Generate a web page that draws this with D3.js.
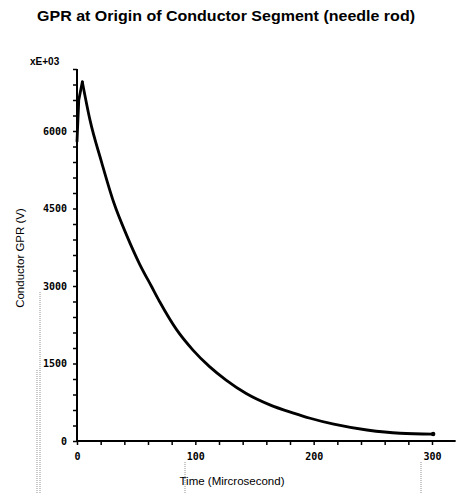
<!DOCTYPE html>
<html>
<head>
<meta charset="utf-8">
<script src="https://cdn.jsdelivr.net/npm/d3@7"></script>
<style>
  html, body { margin: 0; padding: 0; background: #fff; }
  svg { display: block; }
</style>
</head>
<body>
<svg id="chart" width="456" height="493"></svg>
<script>
// ---- data ----
const timeUs = [0, 1.5, 4.5, 11, 21, 31, 42, 53, 63, 70, 84, 98, 112, 126, 143, 163, 183, 197, 217, 245, 273, 301];
const gprVolts = [5800, 6600, 6950, 6210, 5380, 4620, 3980, 3420, 2990, 2690, 2160, 1760, 1440, 1180, 920, 700, 540, 440, 325, 213, 150, 135];
const peakIndex = 2;
const xTickLabels = [0, 100, 200, 300];
const yTickLabels = [0, 1500, 3000, 4500, 6000];
const titleText = "GPR at Origin of Conductor Segment (needle rod)";
const xTitle = "Time (Mircrosecond)";
const yTitle = "Conductor GPR (V)";
const yExponent = "xE+03";

const svg = d3.select("#chart");
const x = d3.scaleLinear().domain([0, 300]).range([77, 432]);
const y = d3.scaleLinear().domain([0, 7200]).range([441, 69]);
const xEnd = 320;

// title
svg.append("text")
  .attr("x", 226).attr("y", 21)
  .attr("text-anchor", "middle")
  .attr("font-family", "Liberation Sans, Arial, sans-serif")
  .attr("font-weight", "bold")
  .attr("font-size", 15)
  .attr("textLength", 378).attr("lengthAdjust", "spacingAndGlyphs")
  .text(titleText);

// exponent label
svg.append("text")
  .attr("x", 30).attr("y", 65)
  .attr("font-family", "Liberation Sans, Arial, sans-serif")
  .attr("font-weight", "bold")
  .attr("font-size", 10)
  .text(yExponent);

// scan-artifact-like faint dotted guides (decorative)
const deco = svg.append("g").attr("stroke", "#777").attr("stroke-width", 0.8).attr("stroke-dasharray", "1,1");
deco.append("line").attr("x1", 40).attr("x2", 40).attr("y1", 292).attr("y2", 493);
deco.append("line").attr("x1", 37).attr("x2", 37).attr("y1", 370).attr("y2", 493);
deco.append("line").attr("x1", 185).attr("x2", 185).attr("y1", 462).attr("y2", 493);
deco.append("line").attr("x1", 421).attr("x2", 421).attr("y1", 462).attr("y2", 493);

// y axis (minor ticks every 300, labels every 1500)
const yAxis = d3.axisLeft(y)
  .tickValues(d3.range(0, 7201, 300))
  .tickSize(4)
  .tickFormat(d => yTickLabels.includes(d) ? String(d) : "");
const gy = svg.append("g").attr("transform", `translate(${x(0)},0)`).call(yAxis);
gy.select(".domain").attr("stroke", "#000").attr("stroke-width", 2).attr("d", `M0,${y(7200)}V${y(0)}`);
gy.selectAll(".tick line").attr("stroke", "#000").attr("stroke-width", 1.5);
gy.selectAll(".tick text")
  .attr("x", -10).attr("dy", "0.32em")
  .attr("font-family", "DejaVu Sans Mono, monospace")
  .attr("font-weight", "bold")
  .attr("font-size", 10)
  .attr("fill", "#000");

// x axis (minor ticks every 20, labels every 100)
const xAxis = d3.axisBottom(x)
  .tickValues(d3.range(0, 301, 20))
  .tickSize(4)
  .tickFormat(d => xTickLabels.includes(d) ? String(d) : "");
const gx = svg.append("g").attr("transform", `translate(0,${y(0)})`).call(xAxis);
gx.select(".domain").attr("stroke", "#000").attr("stroke-width", 2).attr("d", `M${x(0)},0H${x(xEnd)}`);
gx.selectAll(".tick line").attr("stroke", "#000").attr("stroke-width", 1.5);
gx.selectAll(".tick text")
  .attr("y", 12)
  .attr("font-family", "DejaVu Sans Mono, monospace")
  .attr("font-weight", "bold")
  .attr("font-size", 10)
  .attr("fill", "#000");

// axis titles
svg.append("text")
  .attr("x", 232).attr("y", 485)
  .attr("text-anchor", "middle")
  .attr("font-family", "Liberation Sans, Arial, sans-serif")
  .attr("font-size", 11.5)
  .text(xTitle);
svg.append("text")
  .attr("transform", "translate(24,258) rotate(-90)")
  .attr("text-anchor", "middle")
  .attr("font-family", "Liberation Sans, Arial, sans-serif")
  .attr("font-size", 11.5)
  .text(yTitle);

// curve: sharp rise (linear) then smooth decay
const pts = timeUs.map((t, i) => [t, gprVolts[i]]);
const rise = pts.slice(0, peakIndex + 1);
const decay = pts.slice(peakIndex);
const lineLin = d3.line().x(d => x(d[0])).y(d => y(d[1]));
const lineSmooth = d3.line().x(d => x(d[0])).y(d => y(d[1])).curve(d3.curveMonotoneX);
const curveG = svg.append("g").attr("fill", "none").attr("stroke", "#000")
  .attr("stroke-width", 2.8).attr("stroke-linejoin", "round").attr("stroke-linecap", "round");
curveG.append("path").datum(rise).attr("d", lineLin);
curveG.append("path").datum(decay).attr("d", lineSmooth);
const last = pts[pts.length - 1];
svg.append("circle")
  .attr("cx", x(last[0])).attr("cy", y(last[1])).attr("r", 2.2)
  .attr("fill", "#000");
</script>
</body>
</html>
